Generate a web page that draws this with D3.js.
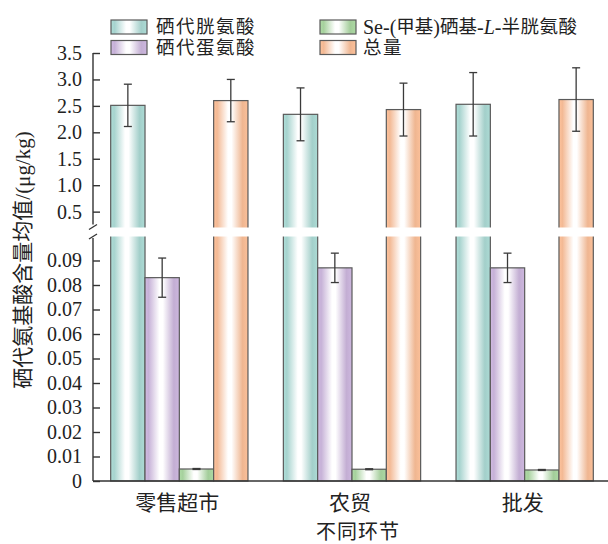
<!DOCTYPE html>
<html>
<head>
<meta charset="utf-8">
<script src="https://cdn.jsdelivr.net/npm/d3@7"></script>
<style>
  html, body { margin: 0; padding: 0; background: #fff; }
  svg { display: block; }
</style>
</head>
<body>
<svg id="chart" width="608" height="544"></svg>
<script>
// ---------------- data ----------------
const categories = ["零售超市", "农贸", "批发"];
const seriesKeys = ["sec", "semet", "mesc", "total"];
const seriesNames = ["硒代胱氨酸", "硒代蛋氨酸", "Se-(甲基)硒基-L-半胱氨酸", "总量"];
const secValues   = [2.51, 2.34, 2.53];
const secErr      = [0.40, 0.50, 0.60];
const semetValues = [0.083, 0.087, 0.087];
const semetErr    = [0.008, 0.006, 0.006];
const mescValues  = [0.0049, 0.0048, 0.0045];
const mescErr     = [0.0002, 0.0002, 0.0002];
const totalValues = [2.60, 2.43, 2.62];
const totalErr    = [0.40, 0.50, 0.60];
const upperTicks  = [0.5, 1.0, 1.5, 2.0, 2.5, 3.0, 3.5];
const lowerTicks  = [0, 0.01, 0.02, 0.03, 0.04, 0.05, 0.06, 0.07, 0.08, 0.09];
const xTitle = "不同环节";
const yTitle = "硒代氨基酸含量均值/(μg/kg)";

const valuesBySeries = { sec: secValues, semet: semetValues, mesc: mescValues, total: totalValues };
const errBySeries    = { sec: secErr, semet: semetErr, mesc: mescErr, total: totalErr };
const colors = { sec: "#a6d3ce", semet: "#c6b1d7", mesc: "#a6d19d", total: "#f3b994" };

// ---------------- layout ----------------
const svg = d3.select("#chart");
const axisX = 93, baseY = 481, rightX = 608;
const serif = "'Liberation Serif','Times New Roman',serif";
const cjk = "'Liberation Serif','Noto Sans CJK SC',serif";

const yBot = d3.scaleLinear().domain([0, 0.1]).range([baseY, 236]);
const yTop = d3.scaleLinear().domain([0.2, 3.5]).range([227.5, 53]);
const yv = v => (v >= 0.15 ? yTop(v) : yBot(v));

const x0 = d3.scaleBand().domain(categories).range([axisX, 611])
  .paddingInner(0.205).paddingOuter(0.1025);
const x1 = d3.scaleBand().domain(seriesKeys).range([0, x0.bandwidth()]).padding(0);

// gradients
const defs = svg.append("defs");
seriesKeys.forEach(k => {
  const g = defs.append("linearGradient").attr("id", "grad-" + k)
    .attr("x1", "0%").attr("x2", "100%").attr("y1", "0%").attr("y2", "0%");
  const c = d3.color(colors[k]);
  [[0, c.brighter(0.15)], [0.1, c], [0.42, "#ffffff"], [0.52, "#ffffff"], [0.84, c.darker(0.05)], [1, c.brighter(0.1)]]
    .forEach(([o, col]) => g.append("stop").attr("offset", o).attr("stop-color", col));
});

// bars
const data = [];
categories.forEach((cat, i) => {
  seriesKeys.forEach(k => {
    data.push({ cat, key: k, value: valuesBySeries[k][i], err: errBySeries[k][i] });
  });
});

const gBars = svg.append("g");
gBars.selectAll("rect.bar").data(data).join("rect")
  .attr("class", "bar")
  .attr("x", d => x0(d.cat) + x1(d.key))
  .attr("width", x1.bandwidth())
  .attr("y", d => yv(d.value))
  .attr("height", d => baseY - yv(d.value))
  .attr("fill", d => `url(#grad-${d.key})`)
  .attr("stroke", "#5a5a5a")
  .attr("stroke-width", 1.2);

// error bars
const gErr = svg.append("g").attr("stroke", "#3a3a3a").attr("stroke-width", 1.3).attr("fill", "none");
data.forEach(d => {
  const cx = x0(d.cat) + x1(d.key) + x1.bandwidth() / 2;
  const yHi = yv(d.value + d.err), yLo = yv(d.value - d.err);
  gErr.append("line").attr("x1", cx).attr("x2", cx).attr("y1", yHi).attr("y2", yLo);
  gErr.append("line").attr("x1", cx - 4).attr("x2", cx + 4).attr("y1", yHi).attr("y2", yHi);
  gErr.append("line").attr("x1", cx - 4).attr("x2", cx + 4).attr("y1", yLo).attr("y2", yLo);
});

// white break band
svg.append("rect").attr("x", axisX + 1).attr("y", yTop(0.2)).attr("width", rightX - axisX)
  .attr("height", yBot(0.1) - yTop(0.2) + 0.5).attr("fill", "#fff");

// axes
function styleAxis(g) {
  g.selectAll("path.domain").attr("stroke", "#333").attr("stroke-width", 1.4);
  g.selectAll(".tick line").attr("stroke", "#333").attr("stroke-width", 1.4);
  g.selectAll(".tick text").attr("font-family", serif).attr("font-size", 20).attr("fill", "#222");
}
const axTop = svg.append("g").attr("transform", `translate(${axisX},0)`)
  .call(d3.axisLeft(yTop).tickValues(upperTicks).tickFormat(d3.format(".1f"))
    .tickSizeInner(-7).tickSizeOuter(0).tickPadding(11));
styleAxis(axTop);
axTop.select("path.domain").attr("d", `M0,${yTop(3.5)}V${yTop(0.2) - 3}`);

const axBot = svg.append("g").attr("transform", `translate(${axisX},0)`)
  .call(d3.axisLeft(yBot).tickValues(lowerTicks).tickFormat(d => d === 0 ? "0" : d3.format(".2f")(d))
    .tickSizeInner(-7).tickSizeOuter(0).tickPadding(11));
styleAxis(axBot);
axBot.select("path.domain").attr("d", `M0,${yBot(0.1) + 2}V${baseY}`);

// break marks
const gBreak = svg.append("g").attr("stroke", "#333").attr("stroke-width", 1.3);
const bm = yTop(0.2), bn = yBot(0.1);
gBreak.append("line").attr("x1", axisX - 4).attr("y1", bm + 2).attr("x2", axisX + 4).attr("y2", bm - 3);
gBreak.append("line").attr("x1", axisX - 4).attr("y1", bn + 3).attr("x2", axisX + 4).attr("y2", bn - 2);

// x axis line
svg.append("line").attr("x1", axisX).attr("x2", rightX).attr("y1", baseY).attr("y2", baseY)
  .attr("stroke", "#333").attr("stroke-width", 1.5);

// x tick labels
svg.append("g").selectAll("text").data(categories).join("text")
  .attr("x", d => x0(d) + x0.bandwidth() / 2 - 2)
  .attr("y", 510)
  .attr("text-anchor", "middle")
  .attr("font-family", cjk).attr("font-size", 21).attr("fill", "#222")
  .text(d => d);

// axis titles
svg.append("text").attr("x", 358).attr("y", 539).attr("text-anchor", "middle")
  .attr("font-family", cjk).attr("font-size", 20).attr("letter-spacing", 1).attr("fill", "#222").text(xTitle);
svg.append("text").attr("transform", "translate(23,260) rotate(-90)")
  .attr("text-anchor", "middle").attr("dominant-baseline", "central")
  .attr("font-family", cjk).attr("font-size", 21).attr("fill", "#222").text(yTitle);

// legend
const legendPos = [
  { key: "sec", x: 111, y: 27 },
  { key: "mesc", x: 320, y: 27 },
  { key: "semet", x: 111, y: 47.5 },
  { key: "total", x: 320, y: 47.5 }
];
const gLeg = svg.append("g");
legendPos.forEach(p => {
  const idx = seriesKeys.indexOf(p.key);
  gLeg.append("rect").attr("x", p.x).attr("y", p.y - 7).attr("width", 36).attr("height", 14)
    .attr("fill", `url(#grad-${p.key})`).attr("stroke", "#5a5a5a").attr("stroke-width", 1.2);
  const t = gLeg.append("text").attr("x", p.x + (p.key === "sec" || p.key === "semet" ? 45 : 43))
    .attr("y", p.y).attr("dominant-baseline", "central")
    .attr("font-family", cjk).attr("font-size", 18.5).attr("fill", "#222");
  const name = seriesNames[idx];
  if (name.includes("-L-")) {
    const parts = name.split("-L-");
    t.append("tspan").attr("font-size", 20).text(parts[0].slice(0, 4));
    t.append("tspan").text(parts[0].slice(4, 6));
    t.append("tspan").attr("font-size", 20).text(parts[0].slice(6, 7));
    t.append("tspan").text(parts[0].slice(7));
    t.append("tspan").attr("font-size", 20).text("-");
    t.append("tspan").attr("font-size", 20).attr("font-style", "italic").text("L");
    t.append("tspan").attr("font-size", 20).text("-");
    t.append("tspan").attr("letter-spacing", 0.5).text(parts[1]);
  } else {
    t.attr("letter-spacing", 1.5).text(name);
  }
});
</script>
</body>
</html>
